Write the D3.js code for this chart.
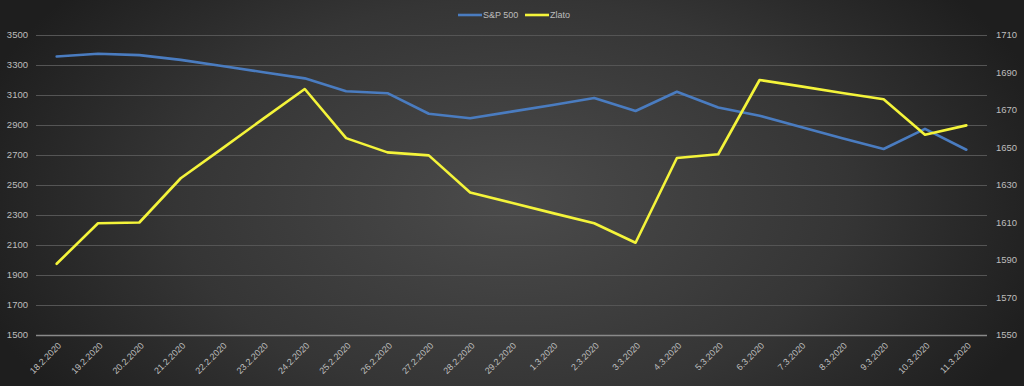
<!DOCTYPE html>
<html>
<head>
<meta charset="utf-8">
<script src="https://cdn.jsdelivr.net/npm/d3@7"></script>
<style>
  body { margin: 0; background: #2a2a2a; }
  svg { display: block; font-family: "Liberation Sans", "DejaVu Sans", sans-serif; }
</style>
</head>
<body>
<div id="chart"></div>
<script>
var dates = ["18.2.2020", "19.2.2020", "20.2.2020", "21.2.2020", "22.2.2020", "23.2.2020",
  "24.2.2020", "25.2.2020", "26.2.2020", "27.2.2020", "28.2.2020", "29.2.2020",
  "1.3.2020", "2.3.2020", "3.3.2020", "4.3.2020", "5.3.2020", "6.3.2020",
  "7.3.2020", "8.3.2020", "9.3.2020", "10.3.2020", "11.3.2020"];

var sp500 = [3357, 3375, 3366, 3334, 3293, 3252, 3211, 3125, 3112, 2975, 2945, 2989,
  3033, 3080, 2993, 3122, 3017, 2962, 2887, 2812, 2740, 2874, 2735];

var zlato = [1588, 1609.6, 1610, 1633.6, 1649.4, 1665.4, 1681.2, 1655, 1647.4, 1645.8,
  1626, 1620.5, 1615, 1609.6, 1599.2, 1644.4, 1646.4, 1686, 1682.6, 1679.1, 1675.7,
  1656.8, 1661.8];

var leftTicks = [1500, 1700, 1900, 2100, 2300, 2500, 2700, 2900, 3100, 3300, 3500];
var rightTicks = [1550, 1570, 1590, 1610, 1630, 1650, 1670, 1690, 1710];

var W = 1024, H = 386;
var margin = {top: 35, right: 37, bottom: 51, left: 36},
    width = W - margin.left - margin.right,
    height = H - margin.top - margin.bottom;

var svg = d3.select("#chart").append("svg")
    .attr("width", W)
    .attr("height", H);

var defs = svg.append("defs");
var grad = defs.append("radialGradient")
    .attr("id", "bg")
    .attr("gradientUnits", "userSpaceOnUse")
    .attr("cx", 512).attr("cy", 200).attr("r", 560)
    .attr("gradientTransform", "translate(512,200) scale(1,0.6) translate(-512,-200)");
grad.append("stop").attr("offset", "0%").attr("stop-color", "#4b4b4b");
grad.append("stop").attr("offset", "60%").attr("stop-color", "#353535");
grad.append("stop").attr("offset", "100%").attr("stop-color", "#1e1e1e");

svg.append("rect").attr("width", W).attr("height", H).attr("fill", "url(#bg)");

var g = svg.append("g").attr("transform", "translate(" + margin.left + "," + margin.top + ")");

var x = d3.scaleBand().domain(dates).range([0, width]);
var yL = d3.scaleLinear().domain([1500, 3500]).range([height, 0]);
var yR = d3.scaleLinear().domain([1550, 1710]).range([height, 0]);

// gridlines (primary axis)
g.append("g")
  .selectAll("line")
  .data(leftTicks.slice(1))
  .enter().append("line")
    .attr("x1", 0).attr("x2", width)
    .attr("y1", function(d) { return yL(d) + 0.5; })
    .attr("y2", function(d) { return yL(d) + 0.5; })
    .attr("stroke", "#555555")
    .attr("stroke-width", 1);

// x axis line
g.append("line")
    .attr("x1", 0).attr("x2", width)
    .attr("y1", height + 0.5).attr("y2", height + 0.5)
    .attr("stroke", "#8a8a8a")
    .attr("stroke-width", 1.5);

// left axis labels
g.append("g")
    .attr("font-size", 9.5)
    .attr("fill", "#bdbdbd")
    .attr("text-anchor", "end")
  .selectAll("text")
  .data(leftTicks)
  .enter().append("text")
    .attr("x", -8)
    .attr("y", function(d) { return yL(d); })
    .attr("dy", "0.35em")
    .text(function(d) { return d; });

// right axis labels
g.append("g")
    .attr("font-size", 9.5)
    .attr("fill", "#bdbdbd")
    .attr("text-anchor", "start")
  .selectAll("text")
  .data(rightTicks)
  .enter().append("text")
    .attr("x", width + 9)
    .attr("y", function(d) { return yR(d); })
    .attr("dy", "0.35em")
    .text(function(d) { return d; });

// x labels
g.append("g")
    .attr("font-size", 9)
    .attr("fill", "#bdbdbd")
    .attr("text-anchor", "end")
  .selectAll("text")
  .data(dates)
  .enter().append("text")
    .attr("transform", function(d) {
      return "translate(" + (x(d) + x.bandwidth() / 2 + 3) + "," + (height + 9) + ") rotate(-45)";
    })
    .attr("dy", "0.35em")
    .text(function(d) { return d; });

var cx = function(d, i) { return x(dates[i]) + x.bandwidth() / 2; };

var lineL = d3.line().x(cx).y(function(d) { return yL(d); });
var lineR = d3.line().x(cx).y(function(d) { return yR(d); });

g.append("path")
    .datum(sp500)
    .attr("fill", "none")
    .attr("stroke", "#4a7cc0")
    .attr("stroke-width", 2.6)
    .attr("stroke-linejoin", "round")
    .attr("stroke-linecap", "round")
    .attr("d", lineL);

g.append("path")
    .datum(zlato)
    .attr("fill", "none")
    .attr("stroke", "#f4f43a")
    .attr("stroke-width", 2.6)
    .attr("stroke-linejoin", "round")
    .attr("stroke-linecap", "round")
    .attr("d", lineR);

// legend
var legend = svg.append("g")
    .attr("font-size", 9)
    .attr("fill", "#bdbdbd");

var items = [{name: "S&P 500", color: "#4a7cc0", x: 458}, {name: "Zlato", color: "#f4f43a", x: 525}];

var li = legend.selectAll("g")
  .data(items)
  .enter().append("g")
    .attr("transform", function(d) { return "translate(" + d.x + ",15)"; });

li.append("line")
    .attr("x1", 0).attr("x2", 24)
    .attr("stroke", function(d) { return d.color; })
    .attr("stroke-width", 2.6);

li.append("text")
    .attr("x", 25)
    .attr("dy", "0.35em")
    .text(function(d) { return d.name; });
</script>
</body>
</html>
